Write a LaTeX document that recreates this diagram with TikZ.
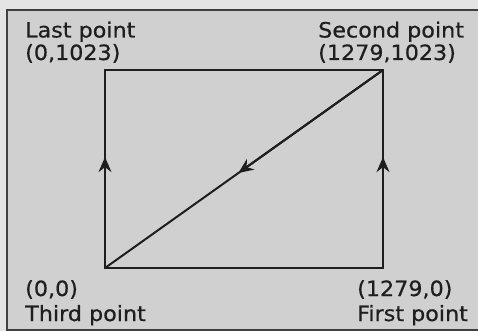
\documentclass[tikz,border=0pt]{standalone}
\usepackage{fontspec}
\setmainfont{DejaVu Sans}[FakeBold=0.6,FakeStretch=1.06]
\usetikzlibrary{arrows.meta,calc}
\definecolor{Ink}{HTML}{1E1E1E}
\definecolor{PaperGray}{HTML}{D0D0D0}
\definecolor{MarginGray}{HTML}{E4E4E4}
\tikzset{
  screenEdge/.style={draw=Ink,line width=2pt,line cap=round},
  flowEdge/.style={screenEdge,-{Stealth[length=15pt,width=13pt,inset=5pt]}},
  pointLabel/.style={anchor=base west,inner sep=0pt,text=Ink,font=\fontsize{21}{24}\selectfont},
  frameBox/.style={draw=Ink!85,line width=1.6pt,fill=PaperGray}
}

\begin{document}
\begin{tikzpicture}[x=1pt,y=-1pt]
  % Page and boxed panel
  \fill[MarginGray] (0,0) rectangle (478,331);
  \useasboundingbox (0,0) rectangle (478,331);
  \draw[frameBox] (7,10) rectangle (480,330);

  % Screen corners
  \coordinate (third) at (105,268);
  \coordinate (first) at (383,268);
  \coordinate (second) at (383,70);
  \coordinate (last) at (105,70);

  % Plotting order
  \draw[screenEdge] (third) -- (first);
  \draw[screenEdge] (last) -- (second);
  \draw[screenEdge] (first) -- (second);
  \draw[screenEdge] (second) -- (third);
  \draw[screenEdge] (third) -- (last);
  \draw[flowEdge] (first) -- ($(first)!.56!(second)$);
  \draw[flowEdge] (second) -- ($(second)!.52!(third)$);
  \draw[flowEdge] (third) -- ($(third)!.56!(last)$);

  % Corner labels
  \node[pointLabel] (lastName) at (25,37.5) {Last point};
  \node[pointLabel] (lastXY) at (25,60) {(0,1023)};
  \node[pointLabel] (secondName) at (318,37.5) {Second point};
  \node[pointLabel] (secondXY) at (318,60) {(1279,1023)};
  \node[pointLabel] (thirdXY) at (25,296) {(0,0)};
  \node[pointLabel] (thirdName) at (25,321) {Third point};
  \node[pointLabel] (firstXY) at (357,296) {(1279,0)};
  \node[pointLabel] (firstName) at (357,321) {First point};
\end{tikzpicture}
\end{document}
